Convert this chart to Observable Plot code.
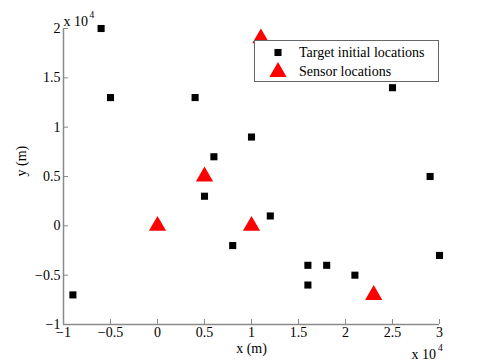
<!DOCTYPE html>
<html>
<head>
<meta charset="utf-8">
<script src="https://cdn.jsdelivr.net/npm/d3@7"></script>
<script src="https://cdn.jsdelivr.net/npm/@observablehq/plot@0.6"></script>
<style>
  html, body { margin: 0; padding: 0; background: #fff; }
  #chart svg { display: block; }
</style>
</head>
<body>
<div id="chart"></div>
<script>
// values in units of 10^4 m
const targetX = [-0.6, -0.5, 0.4, 0.6, 1.0, 0.5, 0.8, 1.2, 1.6, 1.6, 1.8, 2.1, 2.5, 2.9, 3.0, -0.9];
const targetY = [2.0, 1.3, 1.3, 0.7, 0.9, 0.3, -0.2, 0.1, -0.4, -0.6, -0.4, -0.5, 1.4, 0.5, -0.3, -0.7];
const sensorX = [0, 0.5, 1.0, 1.1, 2.3];
const sensorY = [0, 0.5, 0, 1.9, -0.7];
const xTicks = [-1, -0.5, 0, 0.5, 1, 1.5, 2, 2.5, 3];
const yTicks = [-1, -0.5, 0, 0.5, 1, 1.5, 2];
const legendLabels = ["Target initial locations", "Sensor locations"];

const targets = targetX.map((x, i) => ({x, y: targetY[i]}));
const sensors = sensorX.map((x, i) => ({x, y: sensorY[i]}));
const fmt = d => d < 0 ? "\u2212" + (-d) : String(d);

const W = 485, H = 364, mL = 63, mR = 46, mT = 28, mB = 40;
const pw = W - mL - mR, ph = H - mT - mB;
const axisColor = "#8a8a8a";
const serif = "'Liberation Serif', 'Times New Roman', serif";

const plot = Plot.plot({
  width: W, height: H,
  marginLeft: mL, marginRight: mR, marginTop: mT, marginBottom: mB,
  style: {fontFamily: serif, fontSize: "14px", color: "#000", background: "#fff"},
  x: {domain: [-1, 3]},
  y: {domain: [-1, 2]},
  marks: [
    Plot.axisX(xTicks, {tickSize: 0, tickPadding: 3, tickFormat: fmt, label: null, fill: "#000"}),
    Plot.axisY(yTicks, {tickSize: 0, tickPadding: 3, tickFormat: fmt, label: null, fill: "#000"}),
    Plot.tickX(xTicks, {x: d => d, insetTop: ph - 5, stroke: axisColor}),
    Plot.tickY(yTicks, {y: d => d, insetRight: pw - 5, stroke: axisColor}),
    Plot.ruleY([-1], {stroke: axisColor, strokeWidth: 1.5}),
    Plot.ruleX([-1], {stroke: axisColor, strokeWidth: 1.5}),
    Plot.dot(targets, {x: "x", y: "y", symbol: "square", r: 4, fill: "#000", stroke: null}),
    Plot.dot(sensors, {x: "x", y: "y", symbol: "triangle", r: 6.4, fill: "#ff0000", stroke: null}),
    Plot.text(["x (m)"], {frameAnchor: "bottom", dy: 28, fill: "#000"}),
    Plot.text(["y (m)"], {frameAnchor: "left", dx: -42, rotate: -90, fill: "#000"}),
    Plot.text(["x 10"], {frameAnchor: "top-left", textAnchor: "start", dy: -12, fill: "#000"}),
    Plot.text(["4"], {frameAnchor: "top-left", textAnchor: "start", dx: 26, dy: -17, fontSize: 9.5, fill: "#000"}),
    Plot.text(["x 10"], {frameAnchor: "bottom-right", textAnchor: "start", dx: -28, dy: 34, fill: "#000"}),
    Plot.text(["4"], {frameAnchor: "bottom-right", textAnchor: "start", dx: -1.5, dy: 26, fontSize: 9.5, fill: "#000"})
  ]
});

// legend drawn on top of the plot area
const svg = d3.select(plot);
const lg = svg.append("g").attr("font-family", serif).attr("font-size", 14).attr("text-anchor", "start");
lg.append("rect").attr("x", 254.5).attr("y", 40.5).attr("width", 184).attr("height", 41)
  .attr("fill", "#fff").attr("stroke", "#666").attr("stroke-width", 1);
lg.append("path").attr("transform", "translate(278,52.5)")
  .attr("d", d3.symbol(d3.symbolSquare, Math.PI * 16)()).attr("fill", "#000");
lg.append("path").attr("transform", "translate(278,72)")
  .attr("d", d3.symbol(d3.symbolTriangle, Math.PI * 6.4 * 6.4)()).attr("fill", "#ff0000");
lg.selectAll("text.lab").data(legendLabels).join("text")
  .attr("class", "lab").attr("text-anchor", "start")
  .attr("x", 299).attr("y", (d, i) => i === 0 ? 57 : 76)
  .attr("fill", "#000").text(d => d);

document.getElementById("chart").appendChild(plot);
</script>
</body>
</html>
